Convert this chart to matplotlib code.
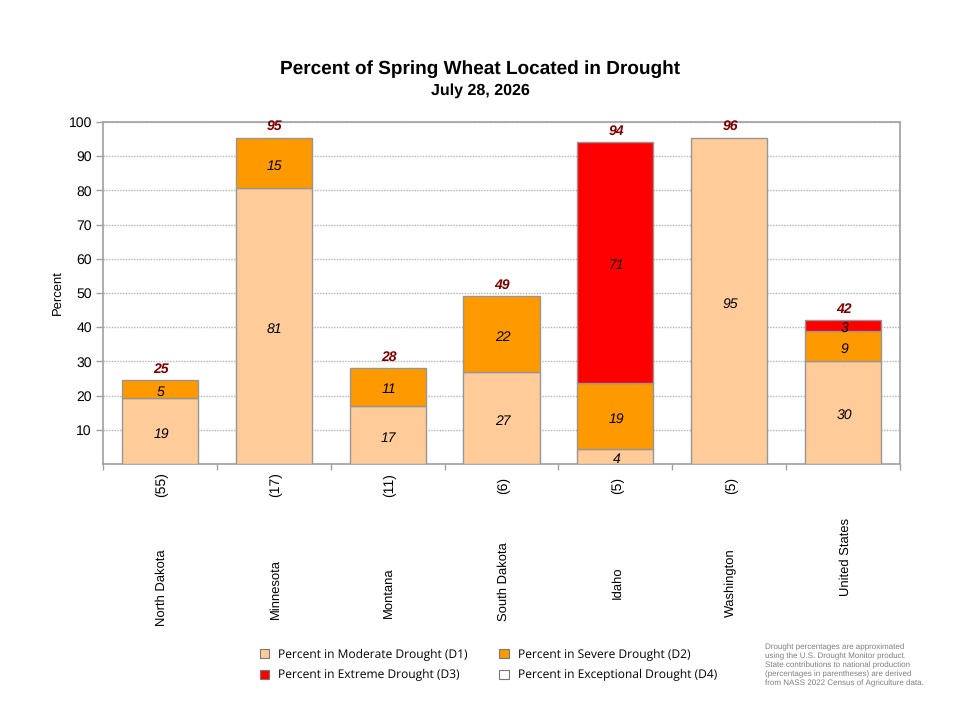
#!/usr/bin/env python3
import matplotlib
matplotlib.use('Agg')
import matplotlib.pyplot as plt
import numpy as np

#%% data
states = ['North Dakota', 'Minnesota', 'Montana', 'South Dakota', 'Idaho', 'Washington', 'United States']
shares = ['(55)', '(17)', '(11)', '(6)', '(5)', '(5)', '']
moderate = [19.4, 80.6, 17.0, 26.8, 4.3, 95.4, 30.1]
severe = [5.1, 14.8, 11.1, 22.3, 19.3, 0, 8.9]
extreme = [0, 0, 0, 0, 70.6, 0, 3.0]
exceptional = [0, 0, 0, 0, 0, 0, 0]
totals = [25, 95, 28, 49, 94, 96, 42]
yticks = [10, 20, 30, 40, 50, 60, 70, 80, 90, 100]

series_names = ['Percent in Moderate Drought (D1)', 'Percent in Severe Drought (D2)',
                'Percent in Extreme Drought (D3)', 'Percent in Exceptional Drought (D4)']
note = ('Drought percentages are approximated\n'
        'using the U.S. Drought Monitor product.\n'
        'State contributions to national production\n'
        '(percentages in parentheses) are derived\n'
        'from NASS 2022 Census of Agriculture data.')

#%% layout
W, H = 958, 718
plt.rcParams['font.family'] = ['Liberation Sans', 'DejaVu Sans']
plt.rcParams['text.hinting'] = 'none'
plt.rcParams['text.hinting_factor'] = 1
fig = plt.figure(figsize=(W / 100, H / 100), dpi=100)
ax = fig.add_axes([103 / W, 1 - 464 / H, 797 / W, 342 / H])

GREY = '#a0a0a0'
colors = ['#ffcc99', '#ff9900', '#ff0000', '#ffffff']
x = np.arange(len(states))
bottom = np.zeros(len(states))
handles = []
for vals, col, name in zip([moderate, severe, extreme, exceptional], colors, series_names):
    vals = np.array(vals)
    mask = vals > 0
    ax.bar(x[mask], vals[mask], bottom=bottom[mask], width=0.67, color=col,
           edgecolor='#969696', linewidth=1.0, zorder=3)
    for xi, v, bt in zip(x[mask], vals[mask], bottom[mask]):
        ax.annotate('%d' % round(v), (xi, bt + v / 2), xytext=(1, -3), textcoords='offset pixels',
                    ha='center', va='center', style='italic', fontsize=10, color='black', zorder=4)
    bottom = bottom + vals
    handles.append(plt.Rectangle((0, 0), 1, 1, facecolor=col, edgecolor='#777777', linewidth=0.8))

for xi, top, t in zip(x, bottom, totals):
    ax.annotate(str(t), (xi, top), xytext=(1, 11), textcoords='offset pixels', ha='center', va='center',
                style='italic', weight='bold', fontsize=10, color='#800000', zorder=4, annotation_clip=False)

ax.set_xlim(-0.5, len(states) - 0.5)
ax.set_ylim(0, 100)
ax.set_yticks(yticks)
ax.tick_params(axis='y', labelsize=10, length=5, width=1, color=GREY, pad=3)
ax.set_xticks(np.arange(len(states) + 1) - 0.5)
ax.set_xticklabels([])
ax.tick_params(axis='x', length=4, width=1, color=GREY)
ax.grid(axis='y', color='#b4b4b4', linewidth=1, linestyle=(0, (1, 1)), zorder=1)
ax.set_axisbelow(True)
for s in ax.spines.values():
    s.set_color(GREY)
    s.set_linewidth(1.2)
ax.set_ylabel('Percent', fontsize=9.5, labelpad=3)

# state names sit at different heights in the original
name_y = [588, 589, 593, 582, 583, 583, 557]
for xi, st, sh, ny in zip(x, states, shares, name_y):
    px = 105 + (xi + 0.5) * 797 / len(states)
    if sh:
        fig.text(px / W, 1 - 485 / H, sh, rotation=90, ha='center', va='center', fontsize=10)
    fig.text(px / W, 1 - ny / H, st, rotation=90, ha='center', va='center', fontsize=9.6)

fig.text(480 / W, 1 - 69 / H, 'Percent of Spring Wheat Located in Drought', ha='center', va='center',
         weight='bold', fontsize=13.4)
fig.text(480 / W, 1 - 91 / H, 'July 28, 2026', ha='center', va='center', weight='bold', fontsize=11.5)

# ncol fills by column, so D1, D3 then D2, D4
order = [0, 2, 1, 3]
leg = fig.legend([handles[i] for i in order], [series_names[i] for i in order], ncol=2,
                 loc='upper left', bbox_to_anchor=(249 / W, 1 - 638 / H), frameon=False,
                 prop={'family': 'Open Sans', 'size': 8.4}, handlelength=0.85, handleheight=0.85,
                 handletextpad=0.75, columnspacing=2.7, labelspacing=0.75, borderpad=0.4)

fig.text(765 / W, 1 - 665 / H, note, ha='left', va='center', fontsize=5.7, color='#7f7f7f', linespacing=1.25)

fig.savefig('out.png', dpi=100)
